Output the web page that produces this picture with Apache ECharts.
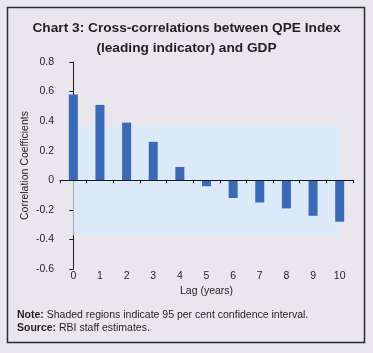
<!DOCTYPE html>
<html>
<head>
<meta charset="utf-8">
<script src="https://cdn.jsdelivr.net/npm/echarts@6/dist/echarts.min.js"></script>
<style>
    html, body { margin: 0; padding: 0; background: #e9e7ed; }
    #chart { width: 373px; height: 353px; }
</style>
</head>
<body>
<div id="chart"></div>
<script>
// data
const lags = ["0", "1", "2", "3", "4", "5", "6", "7", "8", "9", "10"]
const correlations = [0.58, 0.51, 0.39, 0.26, 0.09, -0.04, -0.12, -0.15, -0.19, -0.24, -0.28]
const confidenceBand = [0.37, -0.37]
const yTicks = { min: -0.6, max: 0.8, interval: 0.2 }

const titleLines = ["Chart 3: Cross-correlations between QPE Index", "(leading indicator) and GDP"]
const noteText = "Shaded regions indicate 95 per cent confidence interval."
const sourceText = "RBI staff estimates."

const font = "Liberation Sans, Arial, Helvetica, sans-serif"
const textColor = "#231f20"
const axisColor = "#1a1a1a"

const chart = echarts.init(document.getElementById("chart"), null, { renderer: "canvas" })

const option = {
    backgroundColor: "#e9e7ed",
    animation: false,
    title: {
        text: titleLines.join("\n"),
        left: "center",
        top: 13,
        textStyle: {
            fontFamily: font,
            fontSize: 13.7,
            fontWeight: "bold",
            color: textColor,
            lineHeight: 20,
        },
    },
    grid: { left: 60, right: 20, top: 62, bottom: 84 },
    xAxis: [
        {
            // labels along the bottom
            type: "category",
            data: lags,
            position: "bottom",
            axisLine: { show: false, onZero: false },
            axisTick: { show: false },
            axisLabel: { margin: 2, fontFamily: font, fontSize: 10.5, color: textColor },
            name: "Lag (years)",
            nameLocation: "middle",
            nameGap: 17,
            nameMoveOverlap: false,
            nameTextStyle: { fontFamily: font, fontSize: 10.5, color: textColor },
        },
        {
            // line and ticks at zero
            type: "category",
            data: lags,
            position: "bottom",
            z: 10,
            axisLine: { show: true, onZero: true, lineStyle: { color: axisColor, width: 1 } },
            axisTick: { show: true, length: 3, lineStyle: { color: axisColor } },
            axisLabel: { show: false },
        },
        {
            // hidden value axis so the band runs from lag 0 to lag 10 centres
            type: "value",
            show: false,
            min: -0.5,
            max: lags.length - 0.5,
        },
    ],
    yAxis: {
        type: "value",
        min: yTicks.min,
        max: yTicks.max,
        interval: yTicks.interval,
        splitLine: { show: false },
        axisLine: { show: true, lineStyle: { color: axisColor, width: 1 } },
        axisTick: { show: true, length: 4, lineStyle: { color: axisColor } },
        axisLabel: {
            margin: 6,
            fontFamily: font,
            fontSize: 10.5,
            color: textColor,
            formatter: (v) => (Math.abs(v) < 1e-9 ? "0" : v.toFixed(1)),
        },
        name: "Correlation Coefficients",
        nameLocation: "middle",
        nameGap: 29,
        nameMoveOverlap: false,
        nameTextStyle: { fontFamily: font, fontSize: 10.5, color: textColor },
    },
    series: [
        {
            type: "line",
            xAxisIndex: 2,
            data: [],
            z: 1,
            markArea: {
                silent: true,
                itemStyle: { color: "#dce9f8" },
                data: [[
                    { xAxis: 0, yAxis: confidenceBand[0] },
                    { xAxis: lags.length - 1, yAxis: confidenceBand[1] },
                ]],
            },
        },
        {
            type: "bar",
            xAxisIndex: 0,
            data: correlations,
            barWidth: 9,
            itemStyle: { color: "#3a69b6" },
            z: 3,
        },
    ],
    graphic: [
        {
            type: "rect",
            shape: { x: 7.5, y: 7.5, width: 357, height: 335 },
            style: { fill: "none", stroke: "#2b2b2b", lineWidth: 1.5 },
            silent: true,
        },
        {
            type: "text",
            left: 17,
            top: 309,
            style: {
                text: "{b|Note:} " + noteText + "\n{b|Source:} " + sourceText,
                font: "10.5px " + font,
                fill: textColor,
                lineHeight: 12.5,
                rich: {
                    b: { fontWeight: "bold", fontFamily: font, fontSize: 10.5, fill: textColor },
                },
            },
        },
    ],
}

chart.setOption(option)
</script>
</body>
</html>
